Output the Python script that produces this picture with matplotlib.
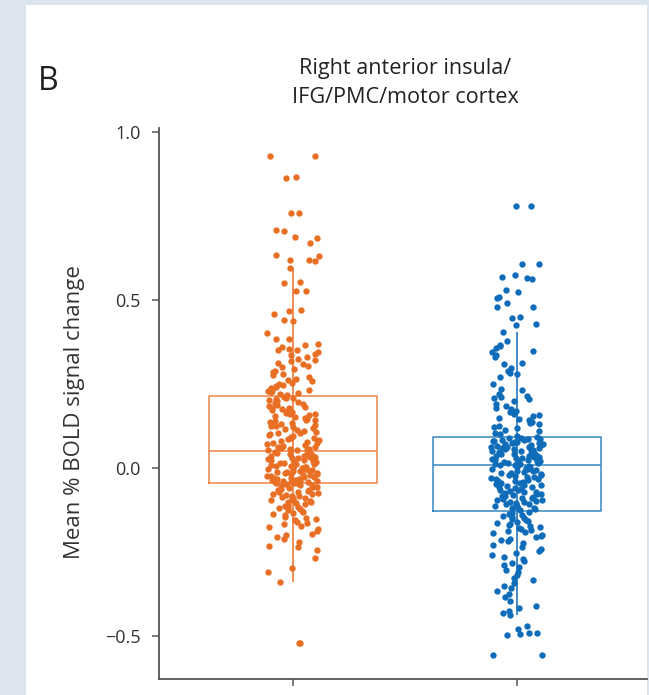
import numpy as np
import matplotlib.pyplot as plt
from matplotlib.patches import Rectangle

plt.rcParams['font.family'] = ['Open Sans', 'DejaVu Sans']

# data
groups = [1, 2]
yticks = [-0.5, 0.0, 0.5, 1.0]
ytick_labels = ['\u22120.5', '0.0', '0.5', '1.0']

orange_vals = [
    0.93, 0.93, 0.865, 0.862, 0.76, 0.758, 0.708, 0.706, 0.688, 0.686, 0.669, 0.634, 0.632,
    0.62, 0.618, 0.616, 0.595, 0.554, 0.552, 0.528, 0.526, 0.47, 0.466, 0.458, 0.44, 0.437,
    0.402, 0.385, 0.383, 0.37, 0.365, 0.36, 0.355, 0.352, 0.35, 0.346, 0.34, 0.335, 0.33,
    0.325, 0.322, 0.318, 0.314, 0.31, 0.305, 0.3, 0.296, 0.29, 0.286, 0.28, 0.276, 0.27,
    0.266, 0.262, 0.258, 0.254, 0.25, 0.247, 0.244, 0.24, 0.237, 0.233, 0.23, 0.228, 0.225,
    0.222, 0.219, 0.216,
    0.212, 0.209, 0.207, 0.204, 0.201, 0.199, 0.196, 0.193, 0.191, 0.188, 0.186, 0.183, 0.18,
    0.178, 0.175, 0.172, 0.17, 0.168, 0.165, 0.162, 0.16, 0.157, 0.155, 0.152, 0.149, 0.147,
    0.144, 0.142, 0.139, 0.136, 0.134, 0.131, 0.129, 0.126, 0.124, 0.121, 0.118, 0.116, 0.113,
    0.111, 0.108, 0.105, 0.103, 0.1, 0.098, 0.095, 0.093, 0.09, 0.088, 0.085, 0.083, 0.08,
    0.078, 0.075, 0.073, 0.071, 0.068, 0.066, 0.064, 0.062, 0.06, 0.058, 0.057, 0.055, 0.054,
    0.053, 0.052,
    0.049, 0.047, 0.046, 0.044, 0.043, 0.041, 0.04, 0.038, 0.037, 0.035, 0.034, 0.032, 0.031,
    0.029, 0.028, 0.026, 0.025, 0.023, 0.022, 0.02, 0.019, 0.017, 0.016, 0.014, 0.013, 0.011,
    0.01, 0.008, 0.007, 0.005, 0.004, 0.002, 0.001, -0.001, -0.002, -0.004, -0.005, -0.007,
    -0.008, -0.01, -0.011, -0.013, -0.014, -0.016, -0.017, -0.019, -0.02, -0.022, -0.023,
    -0.025, -0.026, -0.028, -0.029, -0.031, -0.032, -0.034, -0.035, -0.037, -0.038, -0.039,
    -0.04, -0.041, -0.042, -0.043, -0.044, -0.045, -0.046,
    -0.048, -0.05, -0.052, -0.054, -0.056, -0.058, -0.06, -0.062, -0.064, -0.066, -0.068,
    -0.07, -0.072, -0.074, -0.076, -0.078, -0.08, -0.082, -0.084, -0.086, -0.088, -0.09,
    -0.092, -0.094, -0.096, -0.098, -0.1, -0.102, -0.105, -0.107, -0.11, -0.112, -0.115,
    -0.118, -0.12, -0.123, -0.126, -0.129, -0.132, -0.135, -0.138, -0.141, -0.145, -0.148,
    -0.152, -0.156, -0.16, -0.164, -0.168, -0.172, -0.177, -0.182, -0.188, -0.195, -0.2,
    -0.205, -0.212, -0.22, -0.232, -0.236, -0.245, -0.268, -0.298, -0.31, -0.34, -0.52, -0.52,
]

blue_vals = [
    0.781, 0.78, 0.608, 0.606, 0.574, 0.57, 0.565, 0.563, 0.53, 0.523, 0.509, 0.507, 0.49,
    0.48, 0.478, 0.449, 0.447, 0.428, 0.426, 0.405, 0.378, 0.366, 0.363, 0.357, 0.348, 0.346,
    0.336, 0.33, 0.312, 0.31, 0.298, 0.289, 0.283, 0.28, 0.27, 0.25, 0.235, 0.233, 0.22,
    0.215, 0.212, 0.208, 0.205, 0.198, 0.192, 0.186, 0.18, 0.175, 0.17, 0.166, 0.162, 0.158,
    0.154, 0.15, 0.146, 0.142, 0.138, 0.134, 0.13, 0.126, 0.122, 0.118, 0.114, 0.11, 0.105,
    0.1, 0.095,
    0.091, 0.09, 0.088, 0.087, 0.085, 0.084, 0.083, 0.081, 0.08, 0.078, 0.077, 0.076, 0.074,
    0.073, 0.071, 0.07, 0.069, 0.067, 0.066, 0.064, 0.063, 0.062, 0.06, 0.059, 0.057, 0.056,
    0.055, 0.053, 0.052, 0.05, 0.049, 0.048, 0.046, 0.045, 0.043, 0.042, 0.041, 0.039, 0.038,
    0.036, 0.035, 0.034, 0.032, 0.031, 0.029, 0.028, 0.027, 0.025, 0.024, 0.022, 0.021, 0.02,
    0.018, 0.017, 0.015, 0.014, 0.013, 0.012, 0.011, 0.01,
    0.008, 0.006, 0.004, 0.002, 0.0, -0.002, -0.004, -0.006, -0.008, -0.01, -0.012, -0.014,
    -0.016, -0.018, -0.02, -0.022, -0.024, -0.026, -0.028, -0.03, -0.032, -0.034, -0.036,
    -0.038, -0.04, -0.042, -0.044, -0.046, -0.048, -0.05, -0.052, -0.054, -0.056, -0.058,
    -0.06, -0.062, -0.064, -0.066, -0.068, -0.07, -0.072, -0.074, -0.076, -0.078, -0.08,
    -0.082, -0.084, -0.086, -0.088, -0.09, -0.092, -0.094, -0.096, -0.098, -0.1, -0.102,
    -0.104, -0.106, -0.108, -0.11, -0.112, -0.114, -0.116, -0.118, -0.12, -0.122, -0.124,
    -0.13, -0.133, -0.136, -0.139, -0.142, -0.145, -0.148, -0.151, -0.154, -0.157, -0.16,
    -0.163, -0.166, -0.169, -0.172, -0.175, -0.178, -0.181, -0.184, -0.187, -0.19, -0.194,
    -0.198, -0.202, -0.206, -0.21, -0.214, -0.218, -0.222, -0.228, -0.234, -0.24, -0.246,
    -0.252, -0.258, -0.264, -0.27, -0.276, -0.283, -0.29, -0.296, -0.303, -0.31, -0.318,
    -0.326, -0.334, -0.342, -0.35, -0.358, -0.366, -0.375, -0.385, -0.395, -0.41, -0.418,
    -0.425, -0.432, -0.4375, -0.47, -0.478, -0.49, -0.492, -0.495, -0.497, -0.556, -0.556,
]

# box statistics as drawn
q1 = [-0.045, -0.128]
med = [0.051, 0.009]
q3 = [0.214, 0.092]
whislo = [-0.34, -0.4375]
whishi = [0.595, 0.405]

dot_colors = ['#e96f25', '#0f6cb9']
box_colors = ['#f08447', '#3687bf']

fig = plt.figure(figsize=(6.49, 6.95), dpi=100, facecolor='#dce4ee')
fig.patches.append(Rectangle((26 / 649, 0), 621 / 649, 690 / 695, transform=fig.transFigure,
                             facecolor='white', edgecolor='none', zorder=0))

ax = fig.add_axes([159 / 649, 16 / 695, 488 / 649, 551 / 695])
ax.set_zorder(2)
ax.set_facecolor('none')

stats = [dict(q1=q1[i], med=med[i], q3=q3[i], whislo=whislo[i], whishi=whishi[i])
         for i in range(2)]
bp = ax.bxp(stats, positions=groups, widths=0.75, showfliers=False, showcaps=False,
            patch_artist=False, whiskerprops=dict(linestyle='none'))
for i in range(2):
    bp['boxes'][i].set_color(box_colors[i])
    bp['boxes'][i].set_linewidth(1.1)
    bp['medians'][i].set_color(box_colors[i])
    bp['medians'][i].set_linewidth(1.1)
    bp['boxes'][i].set_zorder(2)
    bp['medians'][i].set_zorder(2)

ax.vlines(groups, whislo, whishi, colors=dot_colors, linewidth=1.1, zorder=2)

for i, vals in enumerate([orange_vals, blue_vals]):
    k = np.arange(len(vals)) + 1 + 37 * i
    # deterministic scatter for horizontal jitter
    h = np.sin(k * 12.9898) * 43758.5453
    jit = (h - np.floor(h) - 0.5) * 0.23
    ax.scatter(groups[i] + jit, vals, s=21, color=dot_colors[i], linewidths=0, zorder=3)

ax.set_xlim(0.402, 2.58)
ax.set_ylim(-0.628, 1.012)
ax.set_xticks(groups)
ax.set_xticklabels([])
ax.set_yticks(yticks)
ax.set_yticklabels(ytick_labels)
for s in ['top', 'right']:
    ax.spines[s].set_visible(False)
for s in ['left', 'bottom']:
    ax.spines[s].set_color('#555555')
    ax.spines[s].set_linewidth(1.3)
ax.tick_params(axis='both', length=5, width=1.1, color='#555555', direction='out')
ax.tick_params(axis='y', labelsize=13, labelcolor='#333333', pad=8)

fig.text(75 / 649, 1 - 412 / 695, 'Mean % BOLD signal change', rotation=90,
         ha='center', va='center', fontsize=16, color='#333333')
fig.text(405 / 649, 1 - 83 / 695, 'Right anterior insula/\nIFG/PMC/motor cortex',
         ha='center', va='center', fontsize=15.6, color='#222222', linespacing=1.45)
fig.text(38 / 649, 1 - 82 / 695, 'B', ha='left', va='center', fontsize=23, color='#222222')

plt.savefig('out.png', dpi=100, facecolor=fig.get_facecolor())
